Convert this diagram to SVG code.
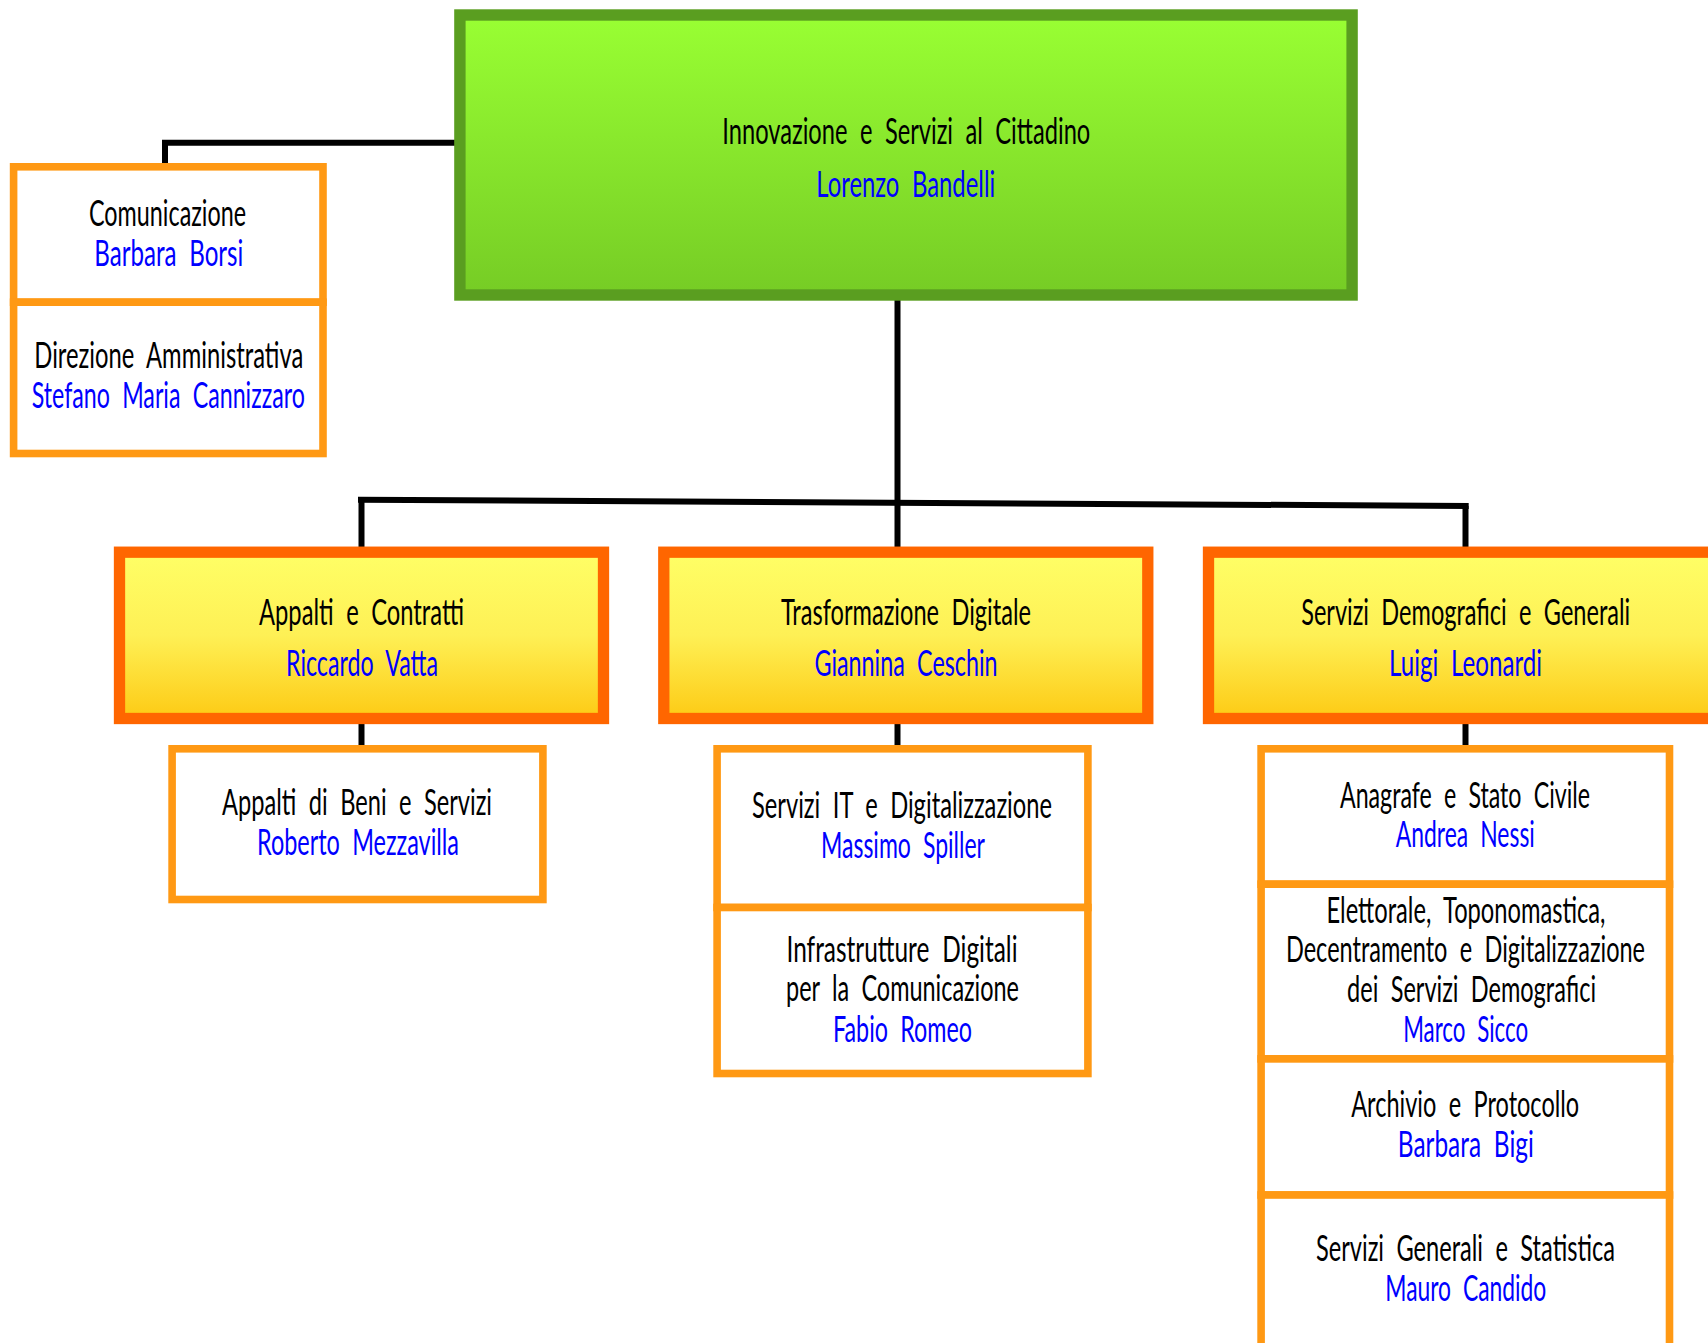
<svg xmlns="http://www.w3.org/2000/svg" width="1708" height="1343" viewBox="0 0 1708 1343">
<defs>
<linearGradient id="gGreen" x1="0" y1="0" x2="0" y2="1"><stop offset="0" stop-color="#99ff33"/><stop offset="1" stop-color="#76cc25"/></linearGradient>
<linearGradient id="gYellow" x1="0" y1="0" x2="0" y2="1"><stop offset="0" stop-color="#ffff66"/><stop offset="0.5" stop-color="#fef055"/><stop offset="1" stop-color="#fdca14"/></linearGradient>
<style>
.top{fill:url(#gGreen);stroke:#5a9e20;stroke-width:11.4}
.mid{fill:url(#gYellow);stroke:#ff6600;stroke-width:11.3}
.sub{fill:#ffffff;stroke:#ff9914;stroke-width:7.6}
.conn{fill:none;stroke:#000000;stroke-width:6}
text{font-family:Lato,"Liberation Sans","DejaVu Sans",sans-serif;font-size:37px;text-anchor:middle;word-spacing:10px}
.t{fill:#000000}
.n{fill:#0000ff}
</style>
</defs>
<rect width="1708" height="1343" fill="#ffffff"/>
<g id="connectors">
<path class="conn" d="M455,142.8 H165 V163"/>
<path class="conn" d="M897.5,300 V547"/>
<path class="conn" d="M358,499.7 L1468.7,506"/>
<path class="conn" d="M361.5,500 V547"/>
<path class="conn" d="M1465.5,506 V547"/>
<path class="conn" d="M361.5,724 V745"/>
<path class="conn" d="M897.5,724 V745"/>
<path class="conn" d="M1465.5,724 V745"/>
</g>
<g id="n-innovazione">
<rect class="top" x="459.9" y="15" width="892.2" height="280"/>
<text class="t" x="906.3" y="144" textLength="368" lengthAdjust="spacingAndGlyphs">Innovazione e Servizi al Cittadino</text>
<text class="n" x="905.8" y="196.7" textLength="179" lengthAdjust="spacingAndGlyphs">Lorenzo Bandelli</text>
</g>
<g id="n-comunicazione">
<rect class="sub" x="13.6" y="166.8" width="309.4" height="135.4"/>
<text class="t" x="167.5" y="226" textLength="157" lengthAdjust="spacingAndGlyphs">Comunicazione</text>
<text class="n" x="168.8" y="266" textLength="149" lengthAdjust="spacingAndGlyphs">Barbara Borsi</text>
</g>
<g id="n-direzione">
<rect class="sub" x="13.6" y="302.2" width="309.4" height="151.3"/>
<text class="t" x="168.8" y="368.3" textLength="269" lengthAdjust="spacingAndGlyphs">Direzione Amministrativa</text>
<text class="n" x="168.3" y="408.3" textLength="273" lengthAdjust="spacingAndGlyphs">Stefano Maria Cannizzaro</text>
</g>
<g id="n-appalti">
<rect class="mid" x="119.5" y="552.2" width="484" height="166.3"/>
<text class="t" x="361.5" y="625" textLength="205" lengthAdjust="spacingAndGlyphs">Appalti e Contratti</text>
<text class="n" x="362" y="676" textLength="152" lengthAdjust="spacingAndGlyphs">Riccardo Vatta</text>
</g>
<g id="n-trasformazione">
<rect class="mid" x="663.8" y="552.2" width="484" height="166.3"/>
<text class="t" x="906" y="625" textLength="250" lengthAdjust="spacingAndGlyphs">Trasformazione Digitale</text>
<text class="n" x="906" y="676" textLength="183" lengthAdjust="spacingAndGlyphs">Giannina Ceschin</text>
</g>
<g id="n-demografici">
<rect class="mid" x="1208.5" y="552.2" width="530" height="166.3"/>
<text class="t" x="1465.7" y="625" textLength="329" lengthAdjust="spacingAndGlyphs">Servizi Demografici e Generali</text>
<text class="n" x="1465.5" y="676" textLength="153" lengthAdjust="spacingAndGlyphs">Luigi Leonardi</text>
</g>
<g id="n-beni-servizi">
<rect class="sub" x="172.1" y="748.8" width="370.8" height="150.7"/>
<text class="t" x="357" y="815" textLength="270" lengthAdjust="spacingAndGlyphs">Appalti di Beni e Servizi</text>
<text class="n" x="358" y="855" textLength="202" lengthAdjust="spacingAndGlyphs">Roberto Mezzavilla</text>
</g>
<g id="n-servizi-it">
<rect class="sub" x="717.1" y="748.8" width="370.8" height="158.7"/>
<text class="t" x="902" y="818" textLength="300" lengthAdjust="spacingAndGlyphs">Servizi IT e Digitalizzazione</text>
<text class="n" x="903" y="858" textLength="164" lengthAdjust="spacingAndGlyphs">Massimo Spiller</text>
</g>
<g id="n-infrastrutture">
<rect class="sub" x="717.1" y="907.5" width="370.8" height="166"/>
<text class="t" x="902" y="961.5" textLength="231" lengthAdjust="spacingAndGlyphs">Infrastrutture Digitali</text>
<text class="t" x="902.5" y="1001" textLength="233" lengthAdjust="spacingAndGlyphs">per la Comunicazione</text>
<text class="n" x="902.5" y="1041.7" textLength="139" lengthAdjust="spacingAndGlyphs">Fabio Romeo</text>
</g>
<g id="n-anagrafe">
<rect class="sub" x="1261.1" y="748.8" width="408.4" height="135.4"/>
<text class="t" x="1465" y="808.3" textLength="250" lengthAdjust="spacingAndGlyphs">Anagrafe e Stato Civile</text>
<text class="n" x="1465.3" y="846.7" textLength="139" lengthAdjust="spacingAndGlyphs">Andrea Nessi</text>
</g>
<g id="n-elettorale">
<rect class="sub" x="1261.1" y="884.2" width="408.4" height="174.7"/>
<text class="t" x="1466" y="923.3" textLength="279" lengthAdjust="spacingAndGlyphs">Elettorale, Toponomastica,</text>
<text class="t" x="1465.5" y="961.7" textLength="359" lengthAdjust="spacingAndGlyphs">Decentramento e Digitalizzazione</text>
<text class="t" x="1471.6" y="1001.7" textLength="249" lengthAdjust="spacingAndGlyphs">dei Servizi Demografici</text>
<text class="n" x="1465.7" y="1042.3" textLength="125" lengthAdjust="spacingAndGlyphs">Marco Sicco</text>
</g>
<g id="n-archivio">
<rect class="sub" x="1261.1" y="1058.9" width="408.4" height="136.1"/>
<text class="t" x="1465.2" y="1117.3" textLength="228" lengthAdjust="spacingAndGlyphs">Archivio e Protocollo</text>
<text class="n" x="1465.8" y="1157.3" textLength="136" lengthAdjust="spacingAndGlyphs">Barbara Bigi</text>
</g>
<g id="n-servizi-generali">
<rect class="sub" x="1261.1" y="1195" width="408.4" height="170"/>
<text class="t" x="1465.5" y="1261" textLength="299" lengthAdjust="spacingAndGlyphs">Servizi Generali e Statistica</text>
<text class="n" x="1465.8" y="1301" textLength="161" lengthAdjust="spacingAndGlyphs">Mauro Candido</text>
</g>
</svg>
